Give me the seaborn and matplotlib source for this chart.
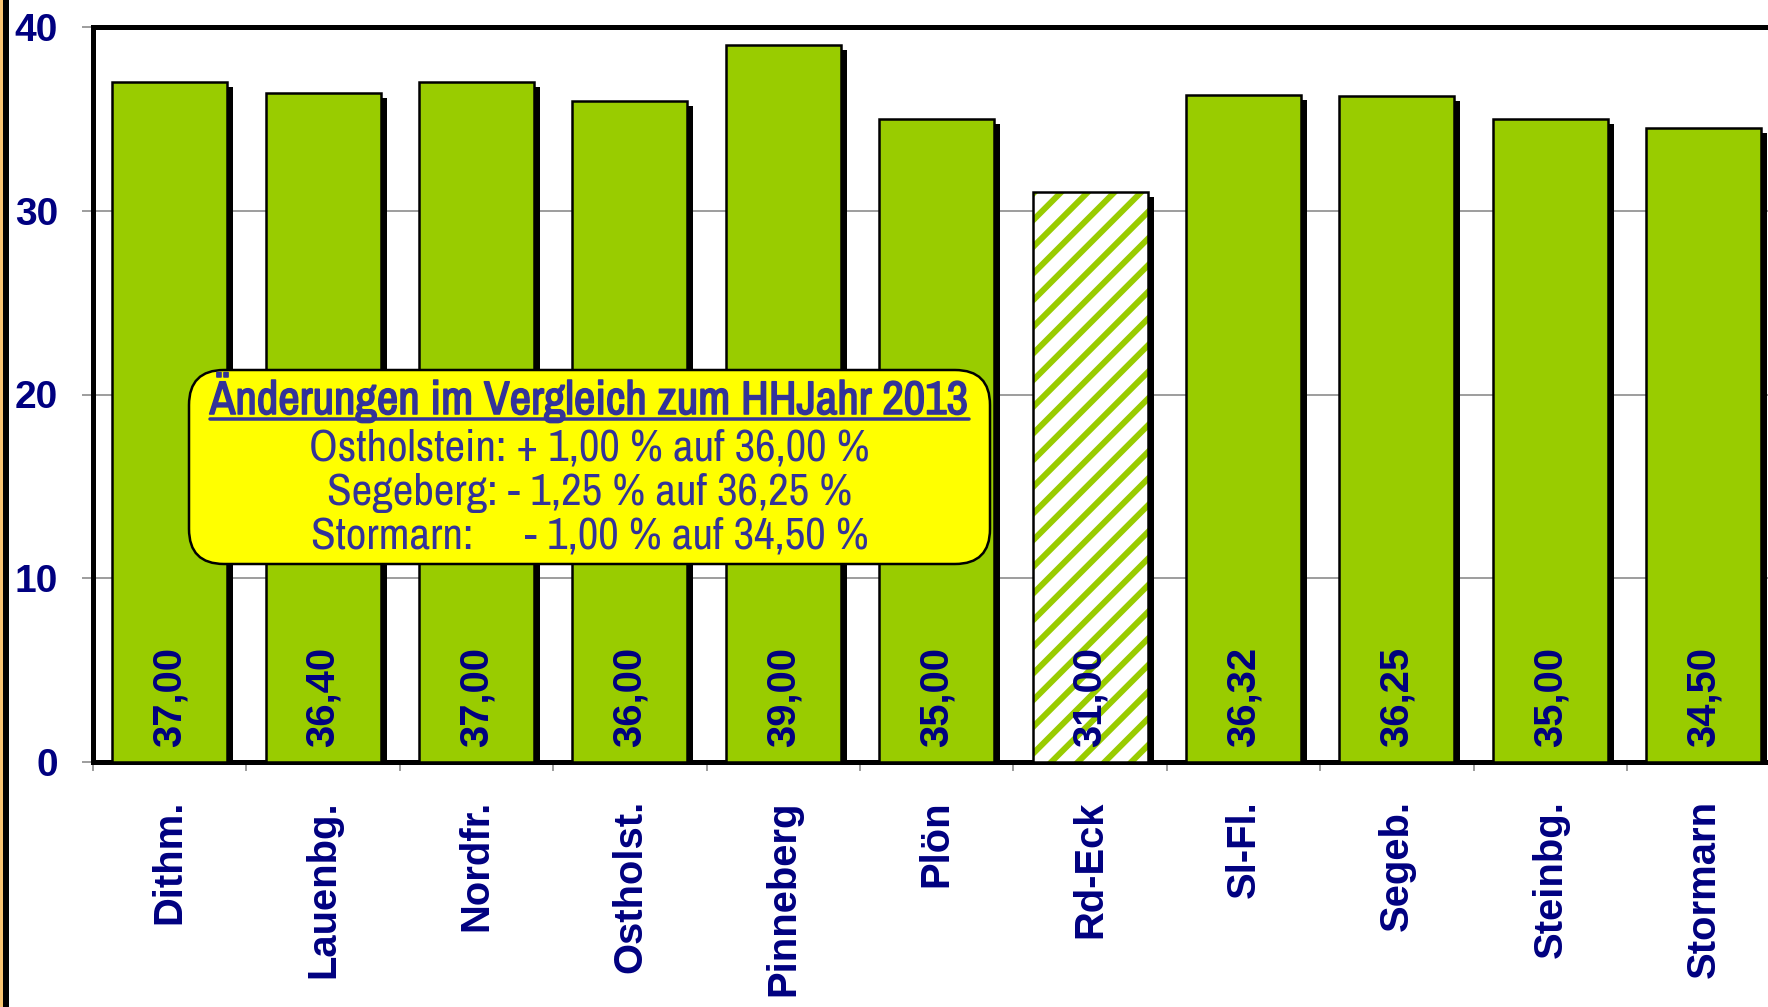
import matplotlib
matplotlib.use("Agg")
import matplotlib.pyplot as plt
import matplotlib.patheffects as pe
from matplotlib import font_manager
from matplotlib.patches import FancyBboxPatch, Rectangle
from matplotlib.lines import Line2D
from matplotlib.transforms import offset_copy
import seaborn as sns

# Data
categories = ["Dithm.", "Lauenbg.", "Nordfr.", "Ostholst.", "Pinneberg", "Plön",
              "Rd-Eck", "Sl-Fl.", "Segeb.", "Steinbg.", "Stormarn"]
values = [37.00, 36.40, 37.00, 36.00, 39.00, 35.00, 31.00, 36.32, 36.25, 35.00, 34.50]
value_labels = ["37,00", "36,40", "37,00", "36,00", "39,00", "35,00",
                "31,00", "36,32", "36,25", "35,00", "34,50"]
hatched_category = "Rd-Eck"
y_ticks = [0, 10, 20, 30, 40]

note_title = "Änderungen im Vergleich zum HHJahr 2013"
note_lines = ["Ostholstein: + 1,00 % auf 36,00 %",
              "Segeberg: - 1,25 % auf 36,25 %",
              "Stormarn:     - 1,00 % auf 34,50 %"]

# Colours
green = "#99CC00"
navy = "#000080"
note_blue = "#333399"

# Canvas: work in pixels, convert to points
W, H, DPI = 1768, 1007, 160
def px(v):
    return v * 72 / DPI

sns.set_theme(style="white")
plt.rcParams["font.family"] = ["Liberation Sans", "DejaVu Sans"]
plt.rcParams["hatch.linewidth"] = px(6)

# narrow font for the note if there is one, otherwise a smaller Arial-like
names = {f.name for f in font_manager.fontManager.ttflist}
narrow_fonts = sorted(n for n in names if "Narrow" in n or "Condensed" in n)
if "Liberation Sans Narrow" in names:
    narrow_fonts = ["Liberation Sans Narrow"]
fake_bold = False
if narrow_fonts:
    note_font, note_size, title_size = narrow_fonts[0], 45, 47
    bold_file = font_manager.findfont(
        font_manager.FontProperties(family=note_font, weight="bold"))
    fake_bold = "bold" not in bold_file.lower()
else:
    note_font, note_size, title_size = "Liberation Sans", 37, 37

plot_w = 11 * 153.4
fig = plt.figure(figsize=(W / DPI, H / DPI), dpi=DPI)
fig.patch.set_facecolor("white")
ax = fig.add_axes([93 / W, (H - 762) / H, plot_w / W, 735 / H])

sns.barplot(x=categories, y=values, color=green, saturation=1, width=0.75,
            edgecolor="black", linewidth=px(2.5), ax=ax, zorder=3)

# shadows + hatched bar
shadow_tr = offset_copy(ax.transData, fig=fig, x=6, y=-5, units="dots")
for cat, p in zip(categories, ax.patches):
    ax.add_patch(Rectangle(p.get_xy(), p.get_width(), p.get_height(),
                           transform=shadow_tr, facecolor="black",
                           edgecolor="none", zorder=2))
    if cat == hatched_category:
        p.set_facecolor("white")
        p.set_edgecolor(green)
        p.set_hatch("//")
        p.set_linewidth(0)
        ax.add_patch(Rectangle(p.get_xy(), p.get_width(), p.get_height(),
                               fill=False, edgecolor="black",
                               linewidth=px(2.5), zorder=4))

# value labels inside bars
for p, lab in zip(ax.patches, value_labels):
    ax.text(p.get_x() + p.get_width() / 2, 0.8, lab, rotation=90,
            ha="center", va="bottom", fontsize=px(40), fontweight="bold",
            color=navy, zorder=5)

ax.set_ylim(0, 40)
ax.set_xlim(-0.5, len(categories) - 0.5)
ax.set_yticks(y_ticks)
ax.set_xlabel("")
ax.set_ylabel("")
ax.yaxis.grid(True, color="#808080", linewidth=px(1.5))
ax.set_axisbelow(True)

ax.set_xticks([i - 0.5 for i in range(len(categories) + 1)], minor=True)
ax.tick_params(axis="x", which="major", length=0, pad=px(38))
ax.tick_params(axis="x", which="minor", bottom=True, length=px(9),
               width=px(1.5), color="#808080")
ax.tick_params(axis="y", left=True, length=px(11), width=px(1.5),
               color="#808080", pad=px(24))
plt.setp(ax.get_xticklabels(), rotation=90, fontsize=px(40),
         fontweight="bold", color=navy, ha="center", va="top")
plt.setp(ax.get_yticklabels(), fontsize=px(39), fontweight="bold", color=navy)

for side in ["left", "top", "bottom"]:
    ax.spines[side].set_visible(True)
    ax.spines[side].set_color("black")
    ax.spines[side].set_linewidth(px(5))
ax.spines["right"].set_visible(False)

# note box
bx0, bx1 = (189 - 93) / plot_w, (990 - 93) / plot_w
by0, by1 = (762 - 564) / 735, (762 - 370) / 735
r = 35 / plot_w
box = FancyBboxPatch((bx0, by0), bx1 - bx0, by1 - by0,
                     boxstyle=f"round,pad=0,rounding_size={r}",
                     mutation_aspect=(plot_w / 735),
                     transform=ax.transAxes, facecolor="#FFFF00",
                     edgecolor="black", linewidth=px(2.5), zorder=6)
ax.add_patch(box)
cx = (bx0 + bx1) / 2
title_y = (762 - 414) / 735
t = ax.text(cx, title_y, note_title, transform=ax.transAxes, ha="center",
            va="baseline", fontsize=px(title_size), fontweight="bold",
            family=note_font, color=note_blue, zorder=7)
if fake_bold:
    t.set_path_effects([pe.withStroke(linewidth=px(1.6), foreground=note_blue)])
for line, yy in zip(note_lines, [448, 493, 537]):
    ax.text(cx, (762 - yy) / 735, line, transform=ax.transAxes, ha="center",
            va="center", fontsize=px(note_size), family=note_font,
            color=note_blue, zorder=7)

fig.canvas.draw()
bb = t.get_window_extent()
inv = ax.transAxes.inverted()
ux0 = inv.transform((bb.x0, bb.y0))[0]
ux1 = inv.transform((bb.x1, bb.y0))[0]
uy = title_y - 5 / 735
ax.add_line(Line2D([ux0, ux1], [uy, uy], transform=ax.transAxes,
                   color=note_blue, linewidth=px(3.5), zorder=7))

# slide frame on the left edge
fig.add_artist(Rectangle((0, 0), 3 / W, 1, transform=fig.transFigure,
                         facecolor="#F8C471", edgecolor="none"))
fig.add_artist(Rectangle((3 / W, 0), 6 / W, 1, transform=fig.transFigure,
                         facecolor="black", edgecolor="none"))

fig.savefig("out.png", dpi=DPI)
